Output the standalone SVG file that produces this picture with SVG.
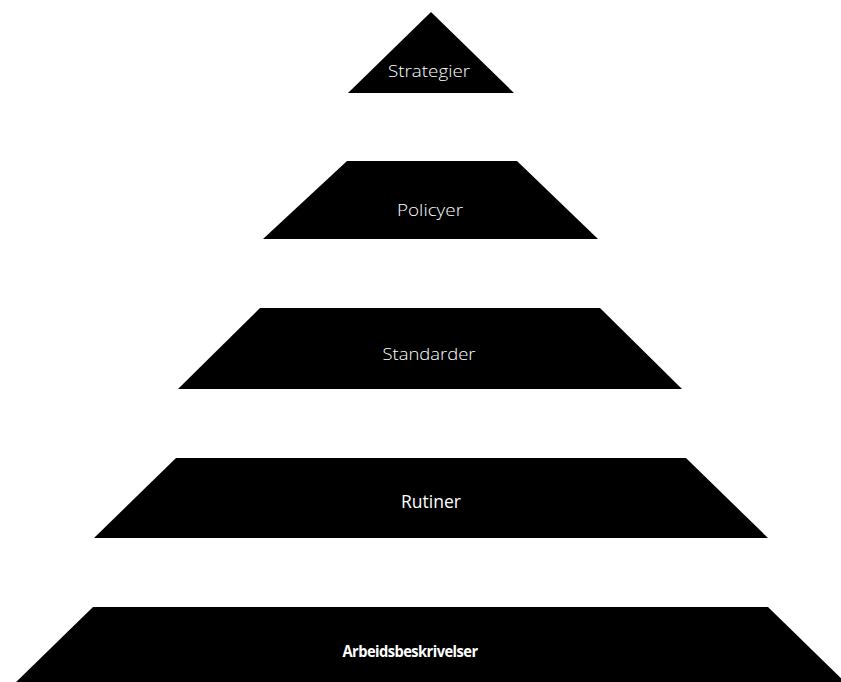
<svg xmlns="http://www.w3.org/2000/svg" width="841" height="682" viewBox="0 0 841 682">
<style>
.lvl{fill:#000;stroke:none}
.lbl{fill:#fff;font-family:"Open Sans","Noto Sans","Liberation Sans",sans-serif;text-anchor:middle}
.thin{font-weight:300;font-size:17px}
.reg{font-weight:400;font-size:18px}
.bold{font-weight:700;font-size:16px;letter-spacing:-0.6px}
</style>
<rect width="841" height="682" fill="#fff"/>
<g id="strategier">
<polygon class="lvl" points="431,12 514,93 348,93"/>
<text class="lbl thin" x="429" y="77" textLength="82" lengthAdjust="spacingAndGlyphs">Strategier</text>
</g>
<g id="policyer">
<polygon class="lvl" points="347,161 517,161 598,239 263,239"/>
<text class="lbl thin" x="430" y="216" textLength="66" lengthAdjust="spacingAndGlyphs">Policyer</text>
</g>
<g id="standarder">
<polygon class="lvl" points="260,308 600,308 682,389 178,389"/>
<text class="lbl thin" x="429" y="360" textLength="93" lengthAdjust="spacingAndGlyphs">Standarder</text>
</g>
<g id="rutiner">
<polygon class="lvl" points="176,458 686,458 768,538 94,538"/>
<text class="lbl reg" x="431" y="508" textLength="60" lengthAdjust="spacingAndGlyphs">Rutiner</text>
</g>
<g id="arbeidsbeskrivelser">
<polygon class="lvl" points="93,607 768,607 850,687 11,687"/>
<text class="lbl bold" x="410" y="657" textLength="135" lengthAdjust="spacingAndGlyphs">Arbeidsbeskrivelser</text>
</g>
</svg>
